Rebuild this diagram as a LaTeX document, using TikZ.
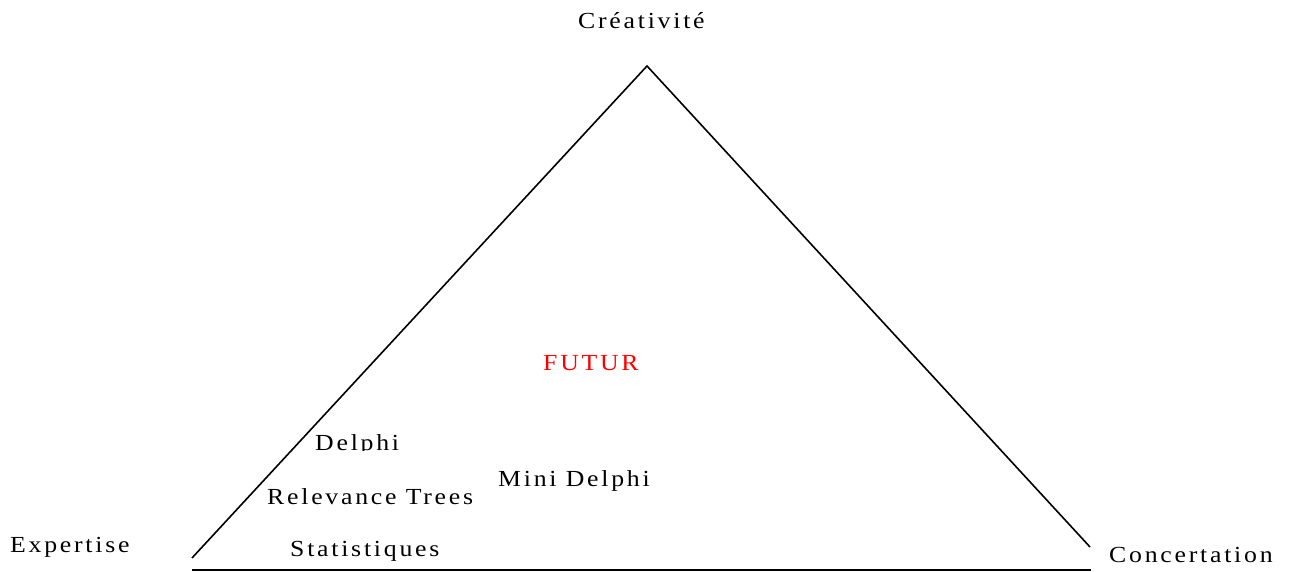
\documentclass[tikz,border=0pt]{standalone}
\usepackage{fontspec}
\setmainfont[LetterSpace=12,FakeStretch=1.12]{Liberation Serif}
\begin{document}
\begin{tikzpicture}[x=1pt,y=1pt,
  lbl/.style={anchor=base west,inner sep=0pt,font=\fontsize{23}{27}\selectfont},
  edge/.style={line width=1.6pt,black}]
\useasboundingbox (0,0) rectangle (1302,572);
\coordinate (apex) at (647,506);
\coordinate (lb) at (192,14);
\coordinate (rb) at (1090,25);
\coordinate (bl) at (192,2);
\coordinate (br) at (1091,2);
\draw[edge] (lb) -- (apex) -- (rb);
\draw[edge] (bl) -- (br);
\node[lbl] (crea) at (578,543) {Créativité};
\node[lbl] (expe) at (10,19) {Expertise};
\node[lbl] (conc) at (1109,9) {Concertation};
\node[lbl,text=red] (futur) at (543,201) {FUTUR};
\begin{scope}
\clip (0,121) rectangle (1302,572);
\node[lbl] (delphi) at (315,121) {Delphi};
\end{scope}
\node[lbl] (rel) at (267,67) {Relevance Trees};
\node[lbl] (mini) at (498,85) {Mini Delphi};
\node[lbl] (stat) at (290,15) {Statistiques};
\end{tikzpicture}
\end{document}
